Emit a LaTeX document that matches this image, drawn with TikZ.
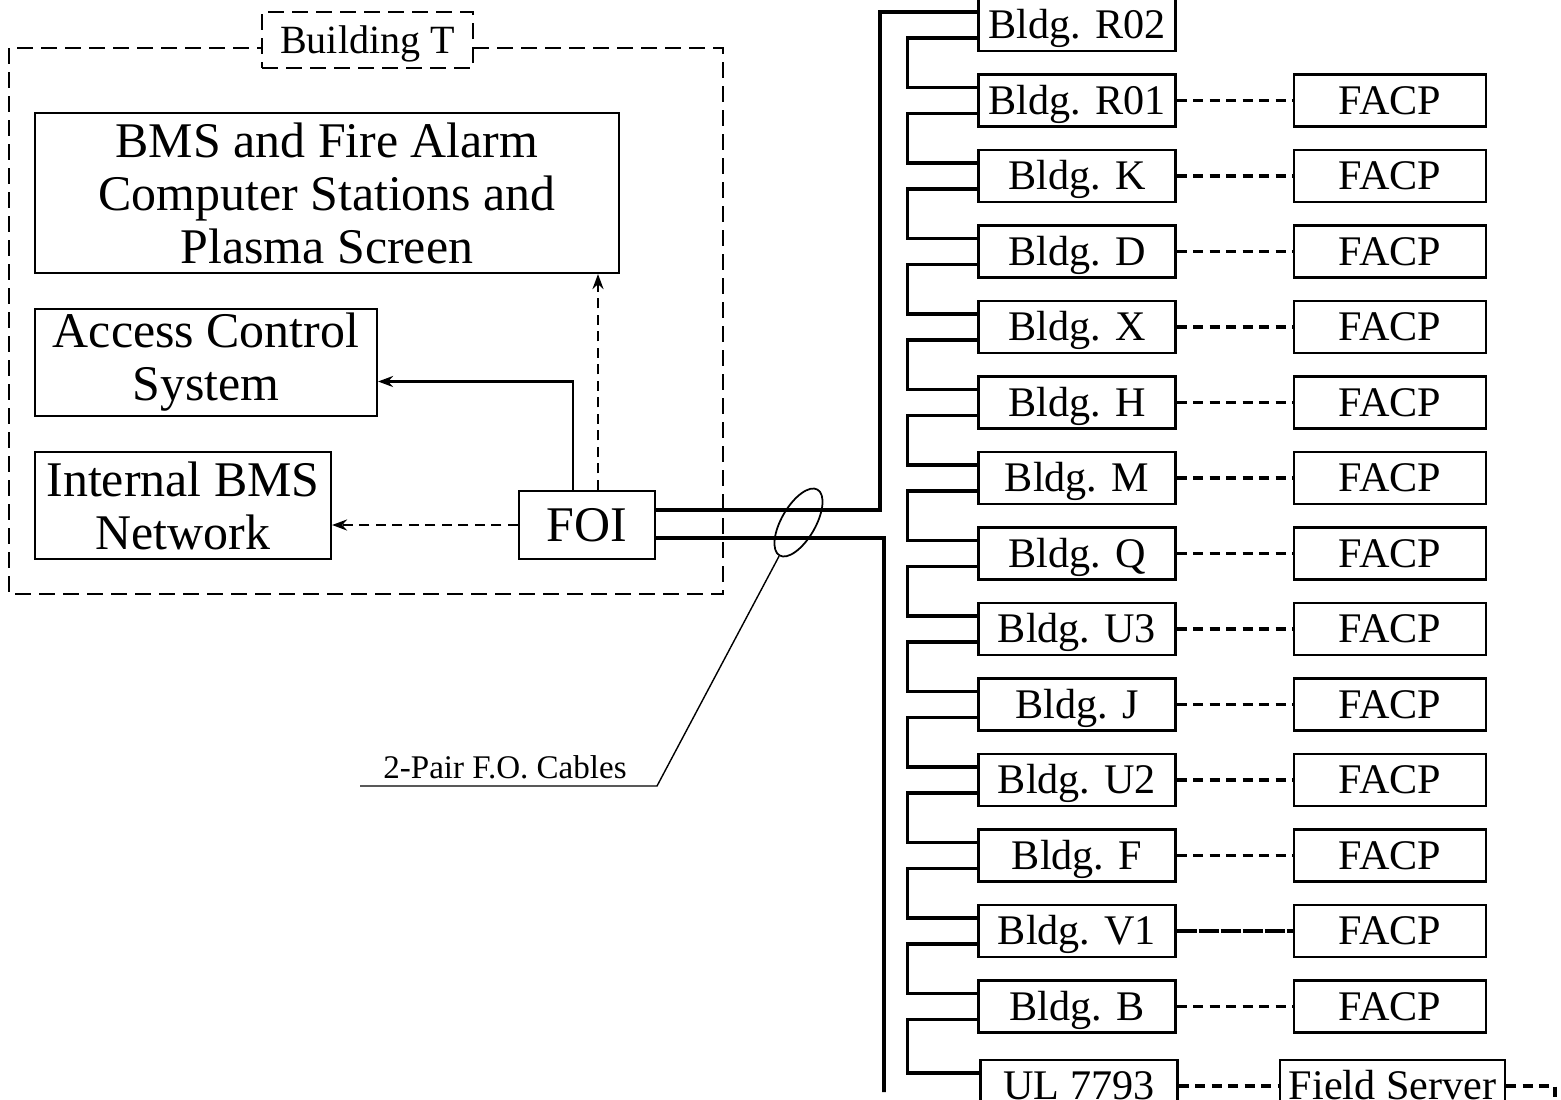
\documentclass[tikz,border=0pt]{standalone}
\usepackage{fontspec}
\setmainfont{Liberation Serif}
\usetikzlibrary{calc,arrows.meta,shapes.geometric}
\tikzset{
  unitbox/.style={draw,line width=0.6pt,inner sep=0pt,align=center,font=\fontsize{14.2}{15.1}\selectfont},
  bldgbox/.style={draw,line width=0.6pt,inner sep=0pt,minimum width=1.97cm,minimum height=0.52cm,text height=7.9pt,text depth=0pt,font=\fontsize{12}{13}\selectfont},
  panelbox/.style={bldgbox,minimum width=1.92cm},
  fibre/.style={line width=1.1pt},
  tie/.style={line width=1.05pt,dash pattern=on 0.1cm off 0.065cm},
  feed/.style={line width=0.8pt,-{Stealth[length=0.15cm,width=0.11cm]}},
  zone/.style={line width=0.5pt,dash pattern=on 0.16cm off 0.08cm},
}
\begin{document}
\begin{tikzpicture}
  \useasboundingbox (0,0) rectangle (15.61,-10.99);
  \clip (0,0) rectangle (15.61,-10.99);
  % Building T
  \draw[zone] (0.09,-0.48) rectangle (7.23,-5.94);
  \node[zone,draw,fill=white,inner sep=0pt,minimum width=2.11cm,minimum height=0.56cm,text height=7.5pt,text depth=0pt,font=\fontsize{11.4}{12}\selectfont] (bldgT) at (3.675,-0.40) {Building T};
  \node[unitbox,minimum width=5.84cm,minimum height=1.60cm] (bms) at (3.27,-1.93) {BMS and Fire Alarm\\Computer Stations and\\Plasma Screen};
  \node[unitbox,minimum width=3.42cm,minimum height=1.07cm] (acs) at (2.06,-3.625) {Access Control\\System};
  \node[unitbox,minimum width=2.96cm,minimum height=1.07cm] (net) at (1.83,-5.055) {Internal BMS\\Network};
  \node[unitbox,minimum width=1.36cm,minimum height=0.68cm] (foi) at (5.87,-5.25) {FOI};
  \coordinate (up) at ($(foi.north)+(0.11,0)$);
  \draw[feed] ($(foi.north)+(-0.14,0)$) |- ($(acs.east)+(0,-0.19)$);
  \draw[feed,dash pattern=on 0.1cm off 0.065cm] (up) -- (up |- bms.south);
  \draw[feed,dash pattern=on 0.1cm off 0.065cm] (foi.west) -- (foi.west -| net.east);
  % buildings on the loop
  \foreach \name [count=\i from 0] in {R02,R01,K,D,X,H,M,Q,U3,J,U2,F,V1,B}
    \node[bldgbox] (b\i) at (10.77,{-0.25-0.755*\i}) {Bldg. \name};
  \node[bldgbox] (b14) at (10.79,-10.86) {UL 7793};
  \foreach \i in {1,...,13}
    \node[panelbox] (p\i) at (13.90,{-0.25-0.755*\i}) {FACP};
  \node[bldgbox,minimum width=2.25cm] (fs) at (13.925,-10.86) {Field Server};
  \foreach \i in {1,...,11,13}
    \draw[tie] (b\i.east) -- (p\i.west);
  \draw[tie,dash pattern=on 0.2cm off 0.02cm] (b12.east) -- (p12.west);
  \coordinate (fsOut) at (15.55,-10.86);
  \draw[tie] (b14.east) -- (fs.west);
  \draw[tie] (fs.east) -- (fsOut) -- ++(0,-0.5);
  \foreach \i [evaluate=\i as \j using int(\i+1)] in {0,...,13}
    \draw[fibre] ($(b\i.west)+(0,-0.13)$) -- ++(-0.70,0) |- ($(b\j.west)+(0,0.13)$);
  % trunk cables
  \coordinate (trunkN) at (8.80,-5.10);
  \coordinate (trunkS) at (8.84,-5.38);
  \coordinate (trunkEnd) at (8.84,-10.92);
  \draw[fibre] ($(foi.east)+(0,0.15)$) -- (trunkN) |- ($(b0.west)+(0,0.13)$);
  \draw[fibre] ($(foi.east)+(0,-0.13)$) -- (trunkS) -- (trunkEnd);
  \node[draw,ellipse,line width=0.5pt,rotate=60,inner sep=0pt,minimum width=0.76cm,minimum height=0.34cm] (bundle) at (7.985,-5.225) {};
  \coordinate (knee) at (6.57,-7.86);
  \coordinate (tail) at (3.60,-7.86);
  \draw[line width=0.4pt] (bundle.west) -- (knee) -- (tail);
  \node[anchor=south,inner sep=0pt,font=\fontsize{9.4}{10}\selectfont] (cables) at (5.05,-7.80) {2-Pair F.O. Cables};
\end{tikzpicture}
\end{document}
